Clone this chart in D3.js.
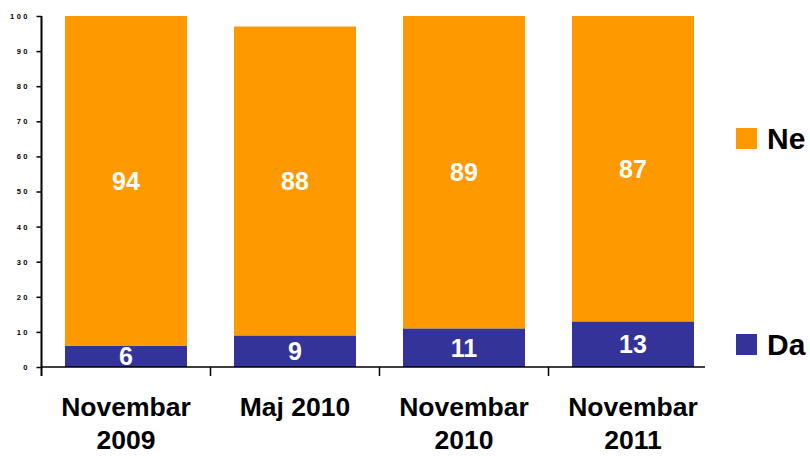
<!DOCTYPE html>
<html>
<head>
<meta charset="utf-8">
<script src="https://cdn.jsdelivr.net/npm/d3@7"></script>
<style>
  body { margin: 0; background: #fff; }
  text { font-family: Arial, "Liberation Sans", sans-serif; font-weight: bold; }
</style>
</head>
<body>
<div id="chart"></div>
<script>
var categories = [["Novembar", "2009"], ["Maj 2010"], ["Novembar", "2010"], ["Novembar", "2011"]];
var da = [6, 9, 11, 13];
var ne = [94, 88, 89, 87];
var yTicks = [0, 10, 20, 30, 40, 50, 60, 70, 80, 90, 100];
var seriesNames = ["Ne", "Da"];

var width = 810, height = 456;
var colors = {Da: "#333399", Ne: "#FF9900"};

var svg = d3.select("#chart").append("svg")
  .attr("width", width)
  .attr("height", height);

var keys = categories.map((c, i) => "c" + i);

var x = d3.scaleBand()
  .domain(keys)
  .range([41.5, 717.5])
  .paddingInner(0.278)
  .paddingOuter(0.139);

var y = d3.scaleLinear()
  .domain([0, 100])
  .range([367, 16]);

// bars: Da at bottom, Ne stacked on top
var rows = keys.map((k, i) => ({key: k, Da: da[i], Ne: ne[i]}));
var stack = d3.stack().keys(["Da", "Ne"])(rows);

var layers = svg.selectAll(".layer")
  .data(stack)
  .enter().append("g")
  .attr("fill", d => colors[d.key]);

layers.selectAll("rect")
  .data(d => d)
  .enter().append("rect")
  .attr("x", d => x(d.data.key))
  .attr("width", x.bandwidth())
  .attr("y", d => y(d[1]))
  .attr("height", d => y(d[0]) - y(d[1]));

layers.selectAll(".val")
  .data(d => d.map(v => ({v: v, key: d.key})))
  .enter().append("text")
  .attr("x", d => x(d.v.data.key) + x.bandwidth() / 2)
  .attr("y", d => y((d.v[0] + d.v[1]) / 2))
  .attr("dy", "0.36em")
  .attr("text-anchor", "middle")
  .attr("fill", "#fff")
  .style("font-size", "25px")
  .text(d => d.v.data[d.key]);

// y axis
var yAxis = svg.append("g")
  .attr("transform", "translate(41.5,0)")
  .call(d3.axisLeft(y).tickValues(yTicks).tickSize(5).tickPadding(9).tickFormat(d3.format("d")));
yAxis.select(".domain").remove();
yAxis.append("line")
  .attr("y1", y(100)).attr("y2", 376)
  .attr("stroke", "#000").attr("stroke-width", 2);
yAxis.selectAll(".tick line").attr("stroke", "#000").attr("stroke-width", 1.5);
yAxis.selectAll(".tick text")
  .attr("fill", "#000")
  .style("font-size", "7.5px")
  .style("letter-spacing", "2.5px")
  .attr("dx", "2.5px");

// x axis
var xAxis = svg.append("g");
xAxis.append("line")
  .attr("x1", 41.5).attr("x2", 705)
  .attr("y1", y(0)).attr("y2", y(0))
  .attr("stroke", "#000").attr("stroke-width", 1.5);
xAxis.selectAll(".xt")
  .data(keys.slice(1))
  .enter().append("line")
  .attr("x1", d => x(d) - x.step() * x.paddingInner() / 2)
  .attr("x2", d => x(d) - x.step() * x.paddingInner() / 2)
  .attr("y1", y(0)).attr("y2", 376)
  .attr("stroke", "#000").attr("stroke-width", 1.5);

var xl = xAxis.selectAll(".xl")
  .data(keys)
  .enter().append("text")
  .attr("text-anchor", "middle")
  .attr("fill", "#000")
  .style("font-size", "26.5px")
  .attr("transform", d => "translate(" + (x(d) + x.bandwidth() / 2) + ",416)");
xl.selectAll("tspan")
  .data((d, i) => categories[i])
  .enter().append("tspan")
  .attr("x", 0)
  .attr("y", (d, i) => i * 33)
  .text(d => d);

// legend
var legendY = {Ne: 149, Da: 355};
var legend = svg.selectAll(".legend")
  .data(seriesNames)
  .enter().append("g")
  .attr("transform", d => "translate(736," + legendY[d] + ")");
legend.append("rect")
  .attr("x", 0).attr("y", -21)
  .attr("width", 21).attr("height", 21)
  .attr("fill", d => colors[d]);
legend.append("text")
  .attr("x", 31).attr("y", 0)
  .attr("fill", "#000")
  .style("font-size", "30px")
  .text(d => d);
</script>
</body>
</html>
